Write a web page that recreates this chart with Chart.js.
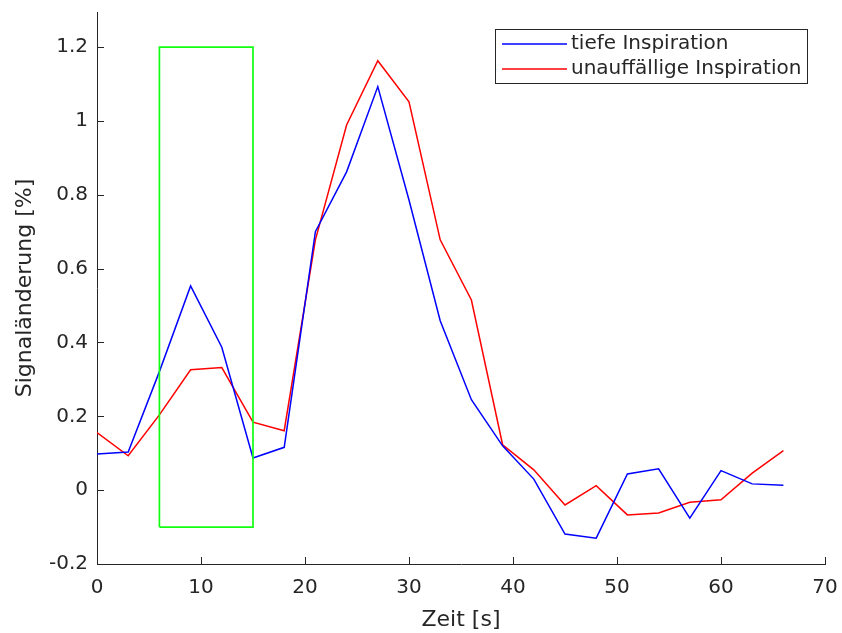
<!DOCTYPE html>
<html>
<head>
<meta charset="utf-8">
<script src="https://cdn.jsdelivr.net/npm/chart.js@4.4.1/dist/chart.umd.min.js"></script>
<style>
  html, body { margin: 0; padding: 0; background: #fff; }
  #wrap { width: 842px; height: 633px; }
</style>
</head>
<body>
<div id="wrap"><canvas id="chart" width="842" height="633"></canvas></div>
<script>
// time axis (s), one sample every 3 s
const zeit = [0, 3, 6, 9, 12, 15, 18, 21, 24, 27, 30, 33, 36, 39, 42, 45, 48, 51, 54, 57, 60, 63, 66];

const tiefe = [0.098, 0.103, 0.321, 0.553, 0.387, 0.087, 0.116, 0.700, 0.862, 1.093, 0.786, 0.459, 0.245,
  0.120, 0.030, -0.119, -0.130, 0.044, 0.058, -0.076, 0.053, 0.017, 0.013];

const unauffaellig = [0.156, 0.093, 0.204, 0.326, 0.332, 0.184, 0.161, 0.678, 0.989, 1.163, 1.052, 0.678, 0.515,
  0.123, 0.055, -0.040, 0.012, -0.067, -0.062, -0.033, -0.026, 0.046, 0.107];

const seriesNames = ['tiefe Inspiration', 'unauffällige Inspiration'];
const seriesColors = ['#0000ff', '#ff0000'];

// highlighted window
const boxX = [6, 15];
const boxY = [-0.1, 1.2];

const xTicks = [0, 10, 20, 30, 40, 50, 60, 70];
const yTicks = [-0.2, 0, 0.2, 0.4, 0.6, 0.8, 1, 1.2];

const axisColor = '#262626';
const fontFamily = '"DejaVu Sans", sans-serif';

const toPoints = (xs, ys) => xs.map((x, i) => ({ x: x, y: ys[i] }));
const boxPoints = [
  { x: boxX[0], y: boxY[0] }, { x: boxX[0], y: boxY[1] },
  { x: boxX[1], y: boxY[1] }, { x: boxX[1], y: boxY[0] },
  { x: boxX[0], y: boxY[0] }
];

// MATLAB style inward ticks
const innerTicks = {
  id: 'innerTicks',
  afterDraw(chart) {
    const { ctx, chartArea } = chart;
    const xs = chart.scales.x, ys = chart.scales.y;
    ctx.save();
    ctx.strokeStyle = axisColor;
    ctx.lineWidth = 1;
    ctx.beginPath();
    xTicks.forEach(v => {
      const px = Math.round(xs.getPixelForValue(v)) + 0.5;
      ctx.moveTo(px, chartArea.bottom);
      ctx.lineTo(px, chartArea.bottom - 7);
    });
    yTicks.forEach(v => {
      const py = Math.round(ys.getPixelForValue(v)) + 0.5;
      ctx.moveTo(chartArea.left, py);
      ctx.lineTo(chartArea.left + 7, py);
    });
    ctx.stroke();
    ctx.restore();
  }
};

// legend box inside the plot, top right
const boxLegend = {
  id: 'boxLegend',
  afterDraw(chart) {
    const { ctx, chartArea } = chart;
    const right = chartArea.right - 18;
    const left = right - 312;
    const top = chartArea.top + 17;
    const h = 54;
    ctx.save();
    ctx.fillStyle = '#fff';
    ctx.fillRect(left, top, right - left, h);
    ctx.strokeStyle = axisColor;
    ctx.lineWidth = 1;
    ctx.strokeRect(left + 0.5, top + 0.5, right - left, h);
    ctx.font = '20px ' + fontFamily;
    ctx.textBaseline = 'middle';
    ctx.fillStyle = axisColor;
    seriesNames.forEach((name, i) => {
      const y = top + 15 + i * 25;
      ctx.strokeStyle = seriesColors[i];
      ctx.lineWidth = 1.5;
      ctx.beginPath();
      ctx.moveTo(left + 7, y);
      ctx.lineTo(left + 72, y);
      ctx.stroke();
      ctx.fillText(name, left + 76, y);
    });
    ctx.restore();
  }
};

new Chart(document.getElementById('chart'), {
  type: 'line',
  data: {
    datasets: [
      {
        label: 'Fenster',
        data: boxPoints,
        borderColor: '#11ff11',
        borderWidth: 1.7,
        pointRadius: 0,
        tension: 0
      },
      {
        label: seriesNames[0],
        data: toPoints(zeit, tiefe),
        borderColor: seriesColors[0],
        borderWidth: 1.5,
        pointRadius: 0,
        tension: 0
      },
      {
        label: seriesNames[1],
        data: toPoints(zeit, unauffaellig),
        borderColor: seriesColors[1],
        borderWidth: 1.5,
        pointRadius: 0,
        tension: 0
      }
    ]
  },
  options: {
    responsive: false,
    animation: false,
    events: [],
    layout: { padding: { top: 12, right: 17, left: 0, bottom: 0 } },
    plugins: {
      legend: { display: false },
      tooltip: { enabled: false }
    },
    scales: {
      x: {
        type: 'linear',
        min: 0,
        max: 70,
        grid: { display: false, drawTicks: false },
        border: { display: true, color: axisColor, width: 1 },
        afterBuildTicks: s => { s.ticks = xTicks.map(v => ({ value: v })); },
        afterFit: s => { s.height = 69; s.paddingLeft = 0; s.paddingRight = 0; },
        ticks: {
          color: axisColor,
          font: { family: fontFamily, size: 20 },
          padding: 12,
          maxRotation: 0,
          autoSkip: false
        },
        title: {
          display: true,
          text: 'Zeit [s]',
          color: axisColor,
          font: { family: fontFamily, size: 22 },
          padding: { top: 0, bottom: 0 }
        }
      },
      y: {
        type: 'linear',
        min: -0.2,
        max: 1.295,
        grid: { display: false, drawTicks: false },
        border: { display: true, color: axisColor, width: 1 },
        afterBuildTicks: s => { s.ticks = yTicks.map(v => ({ value: v })); },
        afterFit: s => { s.width = 97; s.paddingTop = 0; s.paddingBottom = 0; },
        ticks: {
          color: axisColor,
          font: { family: fontFamily, size: 20 },
          padding: 9,
          autoSkip: false,
          callback: v => String(Number(v.toFixed(1)))
        },
        title: {
          display: true,
          text: 'Signaländerung [%]',
          color: axisColor,
          font: { family: fontFamily, size: 22 },
          padding: { top: 12, bottom: 0 }
        }
      }
    }
  },
  plugins: [innerTicks, boxLegend]
});
</script>
</body>
</html>
